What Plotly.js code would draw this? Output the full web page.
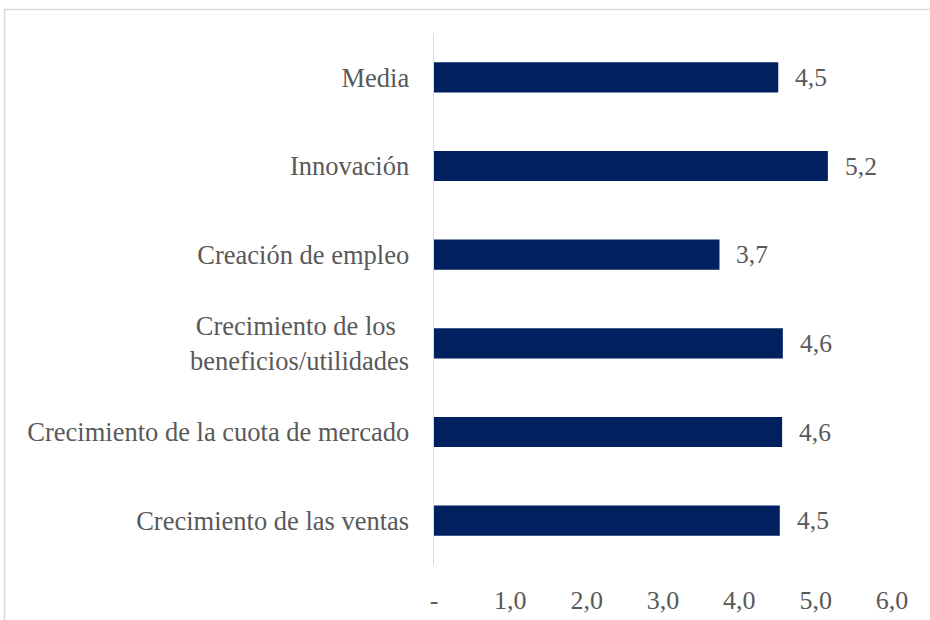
<!DOCTYPE html>
<html>
<head>
<meta charset="utf-8">
<script src="https://cdn.plot.ly/plotly-3.0.1.min.js"></script>
<style>
  html, body { margin: 0; padding: 0; background: #ffffff; }
  #chart { width: 930px; height: 620px; }
</style>
</head>
<body>
<div id="chart"></div>
<script>
// Categories (top to bottom as shown)
const categories = [
  "Media",
  "Innovación",
  "Creación de empleo",
  "Crecimiento de los\u00a0\u00a0<br>beneficios/utilidades",
  "Crecimiento de la cuota de mercado",
  "Crecimiento de las ventas"
];
// Values
const values = [4.51, 5.16, 3.74, 4.57, 4.56, 4.53];
// X-axis ticks
const xTickVals = [0, 1, 2, 3, 4, 5, 6];
const xTickText = ["-", "1,0", "2,0", "3,0", "4,0", "5,0", "6,0"];

const FONT = "Liberation Serif, Times New Roman, serif";
const GREY = "#595959";

const labels = values.map(v => v.toFixed(1).replace(".", ","));

const trace = {
  type: "bar",
  orientation: "h",
  y: categories,
  x: values,
  marker: { color: "#002060" },
  hoverinfo: "x+y"
};

const annotations = values.map((v, i) => ({
  x: v,
  y: categories[i],
  xref: "x",
  yref: "y",
  text: labels[i],
  showarrow: false,
  xanchor: "left",
  yanchor: "middle",
  xshift: 15,
  font: { family: FONT, size: 25.5, color: GREY }
}));

const layout = {
  width: 930,
  height: 620,
  margin: { l: 434, r: 38, t: 33, b: 55 },
  paper_bgcolor: "#ffffff",
  plot_bgcolor: "#ffffff",
  showlegend: false,
  bargap: 0.66,
  font: { family: FONT, size: 26, color: GREY },
  xaxis: {
    range: [0, 6],
    tickvals: xTickVals,
    ticktext: xTickText,
    showgrid: false,
    zeroline: false,
    showline: false,
    ticks: "",
    ticklabelstandoff: 17,
    tickfont: { family: FONT, size: 26, color: GREY },
    fixedrange: true
  },
  yaxis: {
    autorange: "reversed",
    type: "category",
    showgrid: false,
    zeroline: false,
    showline: true,
    linecolor: "#d9d9d9",
    linewidth: 1.5,
    ticks: "",
    ticklabelstandoff: 18,
    tickfont: { family: FONT, size: 26.5, color: GREY },
    fixedrange: true
  },
  annotations: annotations,
  shapes: [{
    type: "rect",
    xref: "paper",
    yref: "paper",
    x0: (4.5 - 434) / 458,
    x1: 1.3,
    y0: -0.3,
    y1: (565 - 9.5) / 532,
    line: { color: "#d9d9d9", width: 1.5 },
    fillcolor: "rgba(0,0,0,0)",
    layer: "below"
  }]
};

Plotly.newPlot("chart", [trace], layout, { displayModeBar: false, staticPlot: true });
</script>
</body>
</html>
